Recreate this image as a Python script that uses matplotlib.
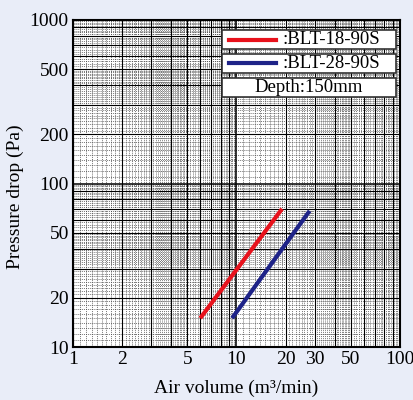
import numpy as np
import matplotlib.pyplot as plt
from matplotlib.patches import Rectangle
from matplotlib.lines import Line2D

# data (air volume m3/min, pressure drop Pa)
blt18_flow = [6.0, 19.0]
blt18_dp = [15.0, 70.0]
blt28_flow = [9.4, 28.0]
blt28_dp = [15.0, 68.0]

x_ticks = [1, 2, 5, 10, 20, 30, 50, 100]
y_ticks = [10, 20, 50, 100, 200, 500, 1000]
series_names = [":BLT-18-90S", ":BLT-28-90S"]
note = "Depth:150mm"

plt.rcParams['font.family'] = ['Liberation Serif', 'DejaVu Serif']
bg = '#E9EDF8'

fig = plt.figure(figsize=(4.14, 4.0), dpi=100, facecolor=bg)
ax = fig.add_axes([73 / 414, 53 / 400, 327 / 414, 327 / 400])
ax.set_facecolor('white')
ax.set_xscale('log')
ax.set_yscale('log')
ax.set_xlim(1, 100)
ax.set_ylim(10, 1000)

# graph-paper style grid
def grid_positions(lo):
    solid, fine = [], []
    for d in [lo, lo * 10]:
        for k in range(1, 10):
            solid.append(k * d)
            step = 0.1 if k < 5 else 0.2
            for f in np.arange(k + step, k + 1 - 1e-9, step):
                fine.append(f * d)
    return solid, fine

xs, xf = grid_positions(1)
ys, yf = grid_positions(10)
for v in xf:
    ax.axvline(v, color='#444444', lw=0.5, ls=(0, (1.5, 1.5)), zorder=1)
for v in yf:
    ax.axhline(v, color='#444444', lw=0.5, ls=(0, (1.5, 1.5)), zorder=1)
for v in xs:
    ax.axvline(v, color='black', lw=1.1 if v in (10,) else 0.8, zorder=2)
for v in ys:
    ax.axhline(v, color='black', lw=1.1 if v in (100,) else 0.8, zorder=2)

ax.plot(blt18_flow, blt18_dp, color='#E8121C', lw=3, solid_capstyle='butt', zorder=5)
ax.plot(blt28_flow, blt28_dp, color='#1E2388', lw=3, solid_capstyle='butt', zorder=5)

for s in ax.spines.values():
    s.set_linewidth(1.5)
    s.set_color('black')

ax.set_xticks(x_ticks)
ax.set_xticklabels([str(t) for t in x_ticks])
ax.set_yticks(y_ticks)
ax.set_yticklabels([str(t) for t in y_ticks])
ax.minorticks_off()
ax.tick_params(axis='x', length=0, labelsize=14, pad=3)
ax.tick_params(axis='y', length=0, labelsize=14, pad=3)
ax.set_xlabel("Air volume (m³/min)", fontsize=14)
ax.xaxis.set_label_coords(0.5, -0.1)
ax.set_ylabel("Pressure drop (Pa)", fontsize=14)
ax.yaxis.set_label_coords(-0.15, 0.46)

# legend boxes
boxes = [(0.911, 0.969), (0.838, 0.896), (0.765, 0.823)]
colors = ['#E8121C', '#1E2388']
for i, (y0, y1) in enumerate(boxes):
    ax.add_patch(Rectangle((0.456, y0), 0.532, y1 - y0, transform=ax.transAxes,
                           facecolor='white', edgecolor='#333333', lw=1.2, zorder=6))
    ym = (y0 + y1) / 2
    if i < 2:
        ax.add_line(Line2D([0.477, 0.621], [ym, ym], transform=ax.transAxes,
                           color=colors[i], lw=3, zorder=7))
        ax.text(0.64, ym, series_names[i], transform=ax.transAxes, fontsize=13.5,
                va='center', ha='left', zorder=8)
    else:
        ax.text(0.722, ym, note, transform=ax.transAxes, fontsize=13.5,
                va='center', ha='center', zorder=8)

fig.savefig('out.png', dpi=100, facecolor=bg)
